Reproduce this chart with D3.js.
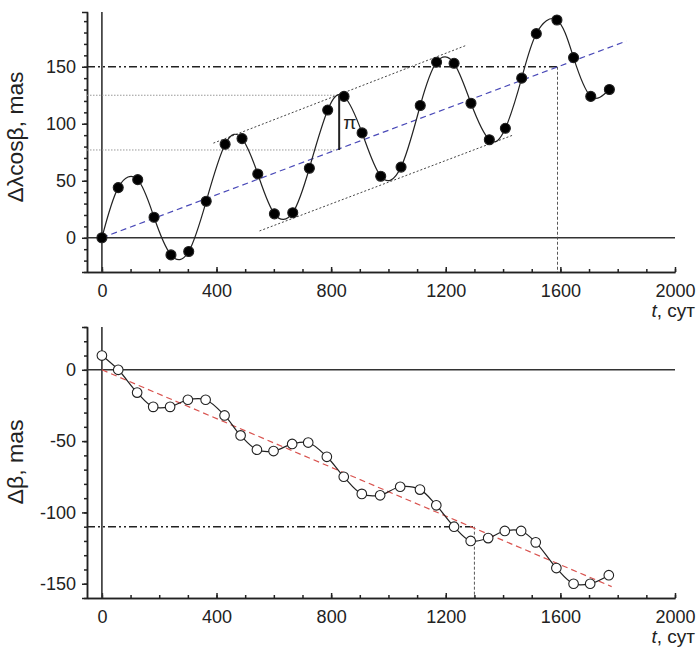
<!DOCTYPE html>
<html>
<head>
<meta charset="utf-8">
<script src="https://cdn.jsdelivr.net/npm/d3@7"></script>
<style>
  body { margin: 0; background: #fff; }
  svg { display: block; font-family: "Liberation Sans", Arial, sans-serif; }
  .domain, .tick line { stroke: #222; stroke-width: 1.5; }
</style>
</head>
<body>
<svg id="chart" width="697" height="648"></svg>
<script>
// upper panel: delta lambda cos beta
const tTop = [0, 57, 125, 182, 241, 303, 364, 430, 489, 544, 602, 666, 724, 788, 845,
  908, 973, 1044, 1111, 1168, 1229, 1288, 1352, 1408, 1465, 1516, 1588, 1646, 1706, 1771];
const dLambda = [0, 44, 51, 18, -15, -12, 32, 82, 87, 56, 21, 22, 61, 112, 124,
  92, 54, 62, 116, 154, 153, 118, 86, 96, 140, 179, 191, 158, 124, 130];

// lower panel: delta beta
const tBottom = [0, 57, 123, 179, 238, 300, 362, 428, 484, 541, 599, 664, 720, 785, 844,
  907, 971, 1041, 1110, 1167, 1229, 1287, 1348, 1406, 1463, 1514, 1586, 1646, 1704, 1769];
const dBeta = [10, 0, -16, -26, -26, -21, -21, -32, -46, -56, -57, -52, -51, -61, -75,
  -87, -88, -82, -84, -95, -110, -120, -118, -113, -113, -121, -139, -150, -150, -144];

// trend lines and envelopes [t, value]
const trendTop = [[0, 0], [1830, 172.5]];
const upperEnv = [[389, 83], [1274, 169]];
const lowerEnv = [[550, 6], [1434, 90]];
const trendBottom = [[0, 0], [1779, -152]];

// reference marks
const refTop = { t: 1590, v: 150 };
const refBottom = { t: 1300, v: -110 };
const parallax = { t: 828, tPeak: 845, low: 77, high: 125 };

const xTicks = [0, 400, 800, 1200, 1600, 2000];
const yTopTicks = [0, 50, 100, 150];
const yBottomTicks = [-150, -100, -50, 0];

const svg = d3.select('#chart');
const x = d3.scaleLinear().domain([-52, 2000]).range([87, 675]);
const xMinor = d3.range(0, 2001, 100);
const fmt = d => String(d);

const styleTicks = (sel) => {
  sel.selectAll('.tick text')
    .style('font-size', '18px')
    .attr('fill', '#222');
};

const drawPanel = (cfg) => {
  const g = svg.append('g');
  const y = cfg.y;
  const x0 = x.domain()[0];
  const y0 = y.domain()[0];

  // minor ticks
  g.append('g')
    .attr('transform', `translate(0,${y.range()[0]})`)
    .call(d3.axisBottom(x).tickValues(xMinor).tickSizeInner(-3).tickSizeOuter(0).tickFormat(''));
  g.append('g')
    .attr('transform', `translate(${x.range()[0]},0)`)
    .call(d3.axisLeft(y).tickValues(cfg.yMinor).tickSizeInner(3).tickSizeOuter(0).tickFormat(''));

  // major axes
  g.append('g')
    .attr('transform', `translate(0,${y.range()[0]})`)
    .call(d3.axisBottom(x).tickValues(xTicks).tickFormat(fmt)
      .tickSizeInner(-5).tickSizeOuter(0).tickPadding(12))
    .call(styleTicks);
  g.append('g')
    .attr('transform', `translate(${x.range()[0]},0)`)
    .call(d3.axisLeft(y).tickValues(cfg.yTicks).tickFormat(fmt).tickSize(5).tickPadding(6))
    .call(styleTicks);

  // zero lines
  g.append('line')
    .attr('x1', x(x0)).attr('x2', x(2000))
    .attr('y1', y(0)).attr('y2', y(0))
    .attr('stroke', '#333').attr('stroke-width', 1.6);
  g.append('line')
    .attr('x1', x(0)).attr('x2', x(0))
    .attr('y1', y.range()[1]).attr('y2', y.range()[0])
    .attr('stroke', '#333').attr('stroke-width', 1.6);

  // reference dash-dot line and dotted drop line
  g.append('line')
    .attr('x1', x(x0)).attr('x2', x(cfg.ref.t))
    .attr('y1', y(cfg.ref.v)).attr('y2', y(cfg.ref.v))
    .attr('stroke', '#222').attr('stroke-width', 1.4)
    .attr('stroke-dasharray', '8,3,2,3,2,3');
  g.append('line')
    .attr('x1', x(cfg.ref.t)).attr('x2', x(cfg.ref.t))
    .attr('y1', y(cfg.ref.v)).attr('y2', y(y0))
    .attr('stroke', '#444').attr('stroke-width', 0.9)
    .attr('stroke-dasharray', '3,2');

  const seg = d3.line().x(d => x(d[0])).y(d => y(d[1]));
  g.append('path')
    .attr('d', seg(cfg.trend))
    .attr('fill', 'none')
    .attr('stroke', cfg.trendColor).attr('stroke-width', 1.2)
    .attr('stroke-dasharray', '6,4');

  if (cfg.extra) cfg.extra(g, y, seg);

  const pts = cfg.t.map((t, i) => [t, cfg.v[i]]);
  g.append('path')
    .attr('d', d3.line().x(d => x(d[0])).y(d => y(d[1])).curve(cfg.curve)(pts))
    .attr('fill', 'none')
    .attr('stroke', '#222').attr('stroke-width', 1.2);

  g.selectAll('circle.pt')
    .data(pts)
    .enter()
    .append('circle')
    .attr('class', 'pt')
    .attr('cx', d => x(d[0]))
    .attr('cy', d => y(d[1]))
    .attr('r', cfg.filled ? 5 : 4.8)
    .attr('fill', cfg.filled ? '#000' : '#fff')
    .attr('stroke', '#222')
    .attr('stroke-width', 1.1);

  // axis titles
  g.append('text')
    .attr('transform', `translate(23,${cfg.titleY}) rotate(-90)`)
    .attr('text-anchor', 'middle')
    .attr('font-size', 22)
    .attr('textLength', cfg.titleLen)
    .attr('lengthAdjust', 'spacingAndGlyphs')
    .attr('fill', '#222')
    .text(cfg.title);

  const tl = g.append('text')
    .attr('x', 695)
    .attr('y', y.range()[0] + 45)
    .attr('text-anchor', 'end')
    .attr('font-size', 19)
    .attr('fill', '#222');
  tl.append('tspan').attr('font-style', 'italic').text('t');
  tl.append('tspan').text(', сут');
};

drawPanel({
  y: d3.scaleLinear().domain([-30, 198]).range([272, 12]),
  yTicks: yTopTicks,
  yMinor: d3.range(-30, 191, 10),
  t: tTop,
  v: dLambda,
  filled: true,
  curve: d3.curveNatural,
  trend: trendTop,
  trendColor: '#4a4ab8',
  ref: refTop,
  title: 'Δλcosβ, mas',
  titleY: 137,
  titleLen: 131,
  extra: (g, y, seg) => {
    [parallax.high, parallax.low].forEach((v, i) => {
      g.append('line')
        .attr('x1', x(-52)).attr('x2', x(i === 0 ? parallax.tPeak : parallax.t))
        .attr('y1', y(v)).attr('y2', y(v))
        .attr('stroke', '#999').attr('stroke-width', 1)
        .attr('stroke-dasharray', '1.5,1.5');
    });
    [upperEnv, lowerEnv].forEach(env => {
      g.append('path')
        .attr('d', seg(env))
        .attr('fill', 'none')
        .attr('stroke', '#444').attr('stroke-width', 1)
        .attr('stroke-dasharray', '2,2');
    });
    g.append('line')
      .attr('x1', x(parallax.t)).attr('x2', x(parallax.t))
      .attr('y1', y(parallax.low)).attr('y2', y(parallax.high))
      .attr('stroke', '#222').attr('stroke-width', 2);
    g.append('text')
      .attr('x', x(parallax.t) + 4)
      .attr('y', y((parallax.low + parallax.high) / 2) + 6)
      .attr('font-size', 19)
      .attr('fill', '#222')
      .text('π');
  }
});

drawPanel({
  y: d3.scaleLinear().domain([-160, 30]).range([598, 327]),
  yTicks: yBottomTicks,
  yMinor: d3.range(-160, 31, 10),
  t: tBottom,
  v: dBeta,
  filled: false,
  curve: d3.curveCatmullRom.alpha(0.5),
  trend: trendBottom,
  trendColor: '#d9534f',
  ref: refBottom,
  title: 'Δβ, mas',
  titleY: 462,
  titleLen: 85
});
</script>
</body>
</html>
